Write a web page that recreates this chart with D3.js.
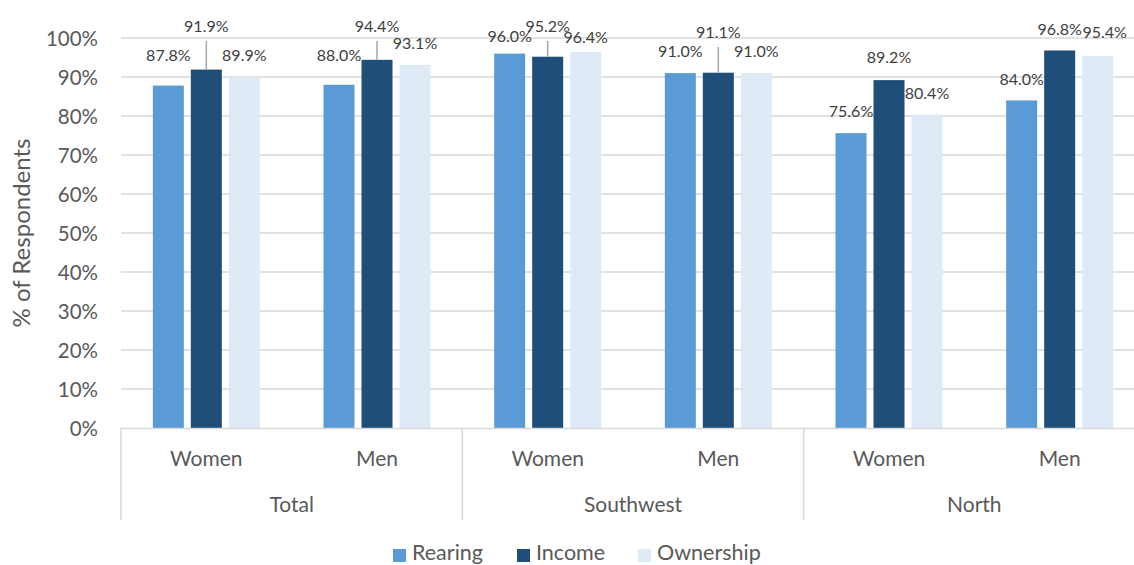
<!DOCTYPE html>
<html>
<head>
<meta charset="utf-8">
<script src="https://cdn.jsdelivr.net/npm/d3@7"></script>
<style>
  html, body { margin: 0; padding: 0; background: #fff; }
  svg { display: block; font-family: Lato, "Open Sans", sans-serif; }
</style>
</head>
<body>
<svg id="chart" width="1134" height="565"></svg>
<script>
// Regions (outer level) and gender (inner level)
const regions = ["Total", "Southwest", "North"];
const genders = ["Women", "Men"];
const seriesNames = ["Rearing", "Income", "Ownership"];

// Share of respondents (%) per region/gender, in order Total W, Total M, SW W, SW M, N W, N M
const rearing   = [87.8, 88.0, 96.0, 91.0, 75.6, 84.0];
const income    = [91.9, 94.4, 95.2, 91.1, 89.2, 96.8];
const ownership = [89.9, 93.1, 96.4, 91.0, 80.4, 95.4];

const yTicks = [0, 10, 20, 30, 40, 50, 60, 70, 80, 90, 100];

const colors = ["#5B9BD5", "#1F4E79", "#DEEAF6"];

// Label placement: baseline lift above bar top (px), horizontal nudge, leader lines
const labelLift = [
  [24.6, 23.8, 11.6, 16.1, 16.2, 15.4],
  [37.6, 27.8, 24.7, 34.7, 17.1, 15.5],
  [16.4, 15.9, 9.0, 16.1, 15.4, 17.9]
];
const labelNudge = [
  [0, 0, 0, 0, 0, 0],
  [0, 0, 0, 0, 0, 0],
  [0, 0, 0, 0, 0, 7]
];
const leader = [
  [false, false, false, false, false, false],
  [true, true, true, true, false, false],
  [false, false, false, false, false, false]
];

const seriesValues = [rearing, income, ownership];
const cats = [];
regions.forEach(r => genders.forEach(g => cats.push({ region: r, gender: g, key: r + "|" + g })));

const svg = d3.select("#chart");
const plotLeft = 121, plotRight = 1145, plotTop = 38, plotBottom = 428;

const x0 = d3.scaleBand().domain(regions).range([plotLeft, plotRight]);
const x1 = d3.scaleBand().domain(cats.map(c => c.key)).range([plotLeft, plotRight]);
const y = d3.scaleLinear().domain([0, 100]).range([plotBottom, plotTop]);

// Series band inside each gender slot
const barSpan = 107;
const xs = d3.scaleBand().domain(seriesNames).range([-barSpan / 2, barSpan / 2]).paddingInner(0.184).paddingOuter(0);

// Gridlines
svg.append("g")
  .selectAll("line")
  .data(yTicks.filter(t => t > 0))
  .join("line")
  .attr("x1", plotLeft).attr("x2", 1134)
  .attr("y1", d => y(d)).attr("y2", d => y(d))
  .attr("stroke", "#D9D9D9").attr("stroke-width", 1.5);

// Y axis labels
const yAxis = d3.axisLeft(y).tickValues(yTicks).tickFormat(d => d + "%").tickSize(0).tickPadding(0);
const yg = svg.append("g").attr("transform", `translate(${plotLeft - 23},0)`).call(yAxis);
yg.select(".domain").remove();
yg.selectAll("text")
  .attr("fill", "#595959")
  .style("font-size", "20.5px")
  .style("font-family", "Lato, sans-serif")
  .attr("dy", "0.36em");

// Y axis title
svg.append("text")
  .attr("transform", `translate(30,${(plotTop + plotBottom) / 2}) rotate(-90)`)
  .attr("text-anchor", "middle")
  .attr("fill", "#595959")
  .style("font-size", "24px")
  .text("% of Respondents");

// Bars
const barG = svg.append("g");
seriesNames.forEach((s, si) => {
  barG.append("g")
    .selectAll("rect")
    .data(cats)
    .join("rect")
    .attr("x", c => x1(c.key) + x1.bandwidth() / 2 + xs(s))
    .attr("width", xs.bandwidth())
    .attr("y", (c, i) => y(seriesValues[si][i]))
    .attr("height", (c, i) => plotBottom - y(seriesValues[si][i]))
    .attr("fill", colors[si]);
});

// Bottom axis line
svg.append("line")
  .attr("x1", plotLeft).attr("x2", 1134)
  .attr("y1", plotBottom + 0.5).attr("y2", plotBottom + 0.5)
  .attr("stroke", "#D9D9D9").attr("stroke-width", 1.5);

// Region dividers
svg.append("g")
  .selectAll("line")
  .data(regions)
  .join("line")
  .attr("x1", d => x0(d)).attr("x2", d => x0(d))
  .attr("y1", plotBottom).attr("y2", 520)
  .attr("stroke", "#D9D9D9").attr("stroke-width", 1.5);

// Gender labels
svg.append("g")
  .selectAll("text")
  .data(cats)
  .join("text")
  .attr("x", c => x1(c.key) + x1.bandwidth() / 2)
  .attr("y", 466)
  .attr("text-anchor", "middle")
  .attr("fill", "#595959")
  .style("font-size", "21px")
  .text(c => c.gender);

// Region labels
svg.append("g")
  .selectAll("text")
  .data(regions)
  .join("text")
  .attr("x", d => x0(d) + x0.bandwidth() / 2)
  .attr("y", 512)
  .attr("text-anchor", "middle")
  .attr("fill", "#595959")
  .style("font-size", "21px")
  .text(d => d);

// Data labels with optional leader lines
const labG = svg.append("g");
seriesNames.forEach((s, si) => {
  cats.forEach((c, i) => {
    const v = seriesValues[si][i];
    const cx = x1(c.key) + x1.bandwidth() / 2 + xs(s) + xs.bandwidth() / 2;
    const barTop = y(v);
    const base = barTop - labelLift[si][i];
    if (leader[si][i]) {
      labG.append("line")
        .attr("x1", cx).attr("x2", cx)
        .attr("y1", base + 9).attr("y2", barTop)
        .attr("stroke", "#A6A6A6").attr("stroke-width", 1.5);
    }
    labG.append("text")
      .attr("x", cx + labelNudge[si][i])
      .attr("y", base)
      .attr("text-anchor", "middle")
      .attr("fill", "#404040")
      .style("font-size", "16px")
      .text(v.toFixed(1) + "%");
  });
});

// Legend
const legendX = [393, 517, 638];
const lg = svg.append("g");
seriesNames.forEach((s, si) => {
  const g = lg.append("g").attr("transform", `translate(${legendX[si]},0)`);
  g.append("rect").attr("x", 0).attr("y", 549).attr("width", 13).attr("height", 13).attr("fill", colors[si]);
  g.append("text").attr("x", 19).attr("y", 560)
    .attr("fill", "#595959").style("font-size", "21.5px").text(s);
});
</script>
</body>
</html>
